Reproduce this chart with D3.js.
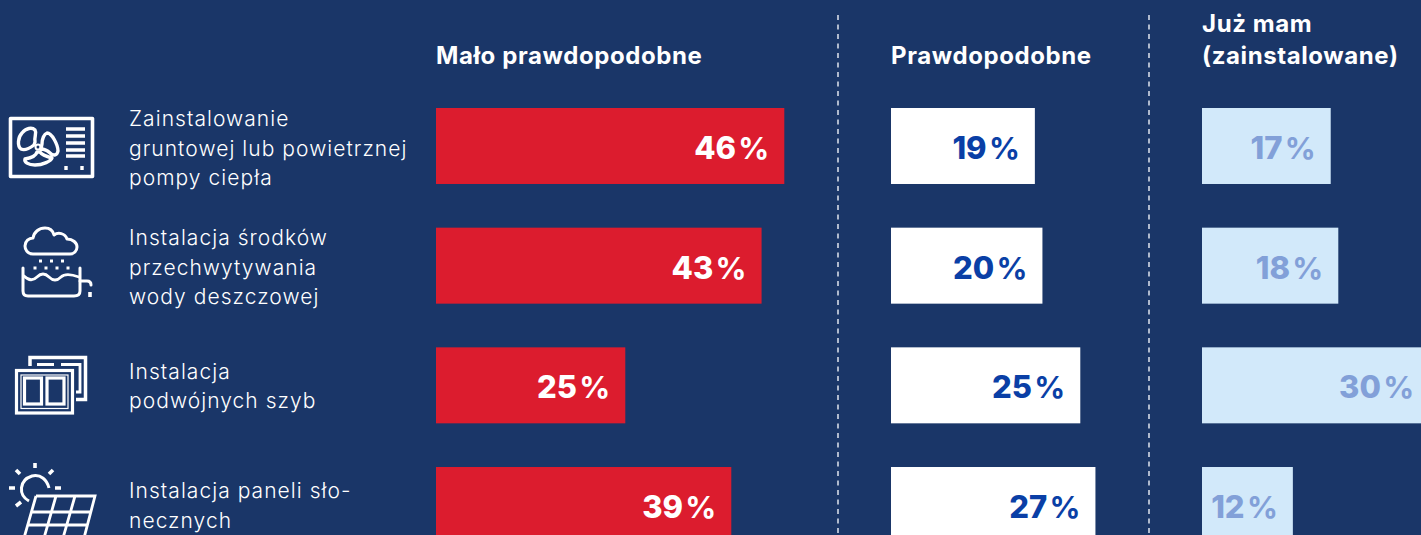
<!DOCTYPE html>
<html lang="pl">
<head>
<meta charset="utf-8">
<style>
  html, body { margin: 0; padding: 0; background: #1a3668; overflow: hidden; }
  svg { display: block; }
  text { font-family: Inter, "Open Sans", sans-serif; }
  .head { font-size: 24px; font-weight: 700; fill: #fff; letter-spacing: .6px; }
  .cat { font-size: 21px; font-weight: 300; fill: #fff; letter-spacing: 1.05px; }
  .val { font-size: 31px; font-weight: 800; text-anchor: end; word-spacing: -4.5px; }
  .val .pct { font-size: 30.5px; font-weight: 700; }
  .icon * { fill: none; stroke: #fff; }
</style>
</head>
<body>
<script src="https://cdn.jsdelivr.net/npm/d3@7/dist/d3.min.js"></script>
<script>
const categories = ["pompa", "deszcz", "szyby", "panele"];
const categoryLines = [
  ["Zainstalowanie", "gruntowej lub powietrznej", "pompy ciepła"],
  ["Instalacja środków", "przechwytywania", "wody deszczowej"],
  ["Instalacja", "podwójnych szyb"],
  ["Instalacja paneli sło-", "necznych"]
];
const unlikely = [46, 43, 25, 39];
const likely = [19, 20, 25, 27];
const installed = [17, 18, 30, 12];
const headerUnlikely = ["Mało prawdopodobne"];
const headerLikely = ["Prawdopodobne"];
const headerInstalled = ["Już mam", "(zainstalowane)"];

const width = 1421, height = 535;
const svg = d3.select("body").append("svg").attr("width", width).attr("height", height);

const y = d3.scaleBand().domain(categories).range([108, 543]).paddingInner(0.365);
const x = d3.scaleLinear().domain([0, 46]).range([0, 348.3]);

const columns = [
  { left: 436, values: unlikely, header: headerUnlikely, fill: "#dc1c2e", ink: "#ffffff" },
  { left: 891, values: likely, header: headerLikely, fill: "#ffffff", ink: "#0a3fa6" },
  { left: 1202, values: installed, header: headerInstalled, fill: "#d2e9fa", ink: "#82a0d8" }
];

// Column headers are bottom aligned on a shared baseline
columns.forEach(col => {
  svg.append("g").selectAll("text").data(col.header).join("text")
    .attr("class", "head")
    .attr("x", col.left)
    .attr("y", (d, i) => 64 - (col.header.length - 1 - i) * 32)
    .text(d => d);
});

// Bars with right-aligned value labels
columns.forEach(col => {
  const g = svg.append("g");
  g.selectAll("rect").data(col.values).join("rect")
    .attr("x", col.left)
    .attr("y", (d, i) => y(categories[i]))
    .attr("width", d => x(d))
    .attr("height", y.bandwidth())
    .attr("fill", col.fill);
  const labels = g.selectAll("text").data(col.values).join("text")
    .attr("class", "val")
    .attr("x", d => col.left + x(d) - 15)
    .attr("y", (d, i) => y(categories[i]) + y.bandwidth() / 2 + 13)
    .attr("fill", col.ink)
    .text(d => `${d} `);
  labels.append("tspan").attr("class", "pct").text("%");
});

// Dashed separators between the answer columns
svg.append("g").selectAll("line").data([838, 1149]).join("line")
  .attr("x1", d => d).attr("x2", d => d)
  .attr("y1", 15).attr("y2", height)
  .attr("stroke", "#d5dbe6")
  .attr("stroke-width", 1.6)
  .attr("stroke-dasharray", "5 4.5");

// Row descriptions, nudged so their blocks sit on the icon rows
const lineStep = 29.5;
const rowNudge = [3, 2, 1, 1];
categoryLines.forEach((lines, i) => {
  const c = y(categories[i]) + y.bandwidth() / 2 + rowNudge[i];
  const baseline = c + 7 - (lines.length - 1) * lineStep / 2;
  svg.append("g").selectAll("text").data(lines).join("text")
    .attr("class", "cat")
    .attr("x", 129)
    .attr("y", (d, k) => baseline + k * lineStep)
    .text(d => d);
});

// Line icons
const icons = svg.append("g").attr("class", "icon");

// Heat pump outdoor unit
const pump = icons.append("g").attr("stroke-linejoin", "round");
pump.append("rect").attr("x", 10.5).attr("y", 118.5).attr("width", 82).attr("height", 58).attr("stroke-width", 3.6);
pump.append("path").attr("stroke-width", 3.4)
  .attr("d", "M34 145 C30 148 25 151 21 149 C17 146 18 137 22 133 C26 128 32 127 35 130 C37 133 34 137 35 142 Z"
    + " M42 144 C42 139 44 134 47 133 C52 133 58 145 58 151 C57 156 53 156 50 153 C47 150 44 149 41 149 Z"
    + " M37 152 C36 156 31 158 25 159 C24 162 28 165 35 165 C43 165 51 161 52 158 C48 157 42 155 40 152 Z");
pump.append("circle").attr("cx", 38).attr("cy", 147).attr("r", 2.5).attr("stroke-width", 2);
pump.append("path").attr("stroke-width", 3.4).attr("d", "M66 129H85 M66 136H85 M66 143H85 M66 150H85 M66 156H85");
pump.append("path").attr("stroke-width", 3.4).attr("d", "M66 166V170 M82 166V170");

// Rain cloud over a water tank
const rain = icons.append("g").attr("stroke-linecap", "round").attr("stroke-linejoin", "round");
rain.append("path").attr("stroke-width", 3)
  .attr("d", "M33 254 C27 254 25 249 25 246 C25 241 29 238 33 238 C34 232 39 228 45 228 C50 228 53 231 54 235 C58 232 65 233 67 239 C73 239 77 243 77 247 C77 251 74 254 70 254 Z");
rain.append("path").attr("stroke-width", 3).attr("stroke-linecap", "butt").attr("stroke-dasharray", "3 8")
  .attr("d", "M39 261H65 M33.5 268H70");
rain.append("path").attr("stroke-width", 3)
  .attr("d", "M23 268V291 C23 295 25 296 28 296H74 C78 296 80 294 80 291V268");
rain.append("path").attr("stroke-width", 2.8)
  .attr("d", "M24 276 C29 281 33 281 37 277 C41 273 45 273 49 277 C53 281 57 281 61 277 C65 273 71 274 79 277");
rain.append("path").attr("stroke-width", 3).attr("d", "M80 281H87 C90 281 91 283 91 285");
rain.append("path").attr("stroke-width", 3.6).attr("stroke-linecap", "butt").attr("d", "M90 292V297");

// Double glazed windows
const windows = icons.append("g");
windows.append("path").attr("stroke-width", 3.5).attr("d", "M30 366V357.5H85.5V399.5H76");
windows.append("path").attr("stroke-width", 2.8).attr("d", "M37 364.5H54 M61 364.5H80V392H76");
windows.append("rect").attr("x", 16.5).attr("y", 370.5).attr("width", 56).attr("height", 42.5).attr("stroke-width", 3.2);
windows.append("rect").attr("x", 21).attr("y", 375).attr("width", 47).attr("height", 33.5).attr("stroke-width", 1.2);
windows.append("rect").attr("x", 24.5).attr("y", 378).attr("width", 17).attr("height", 26).attr("stroke-width", 3.2);
windows.append("rect").attr("x", 47).attr("y", 378).attr("width", 17).attr("height", 26).attr("stroke-width", 3.2);

// Sun behind a solar panel
const solar = icons.append("g");
solar.append("path").attr("stroke-width", 3).attr("d", "M29 501 C18 495 19 480 32 476 C41 474 47 480 49 488");
solar.append("path").attr("stroke-width", 3.6)
  .attr("d", "M35 463V468 M16 470L20 474 M53 470L49 474 M9 488H15 M55 488H61 M16 506L21 502");
solar.append("path").attr("stroke-width", 2.8)
  .attr("d", "M36 496H95 L84 538 M36 496 L24 538 M56 496 L44 538 M75 496 L63 538 M32 512H91 M27 525H87");
</script>
</body>
</html>
